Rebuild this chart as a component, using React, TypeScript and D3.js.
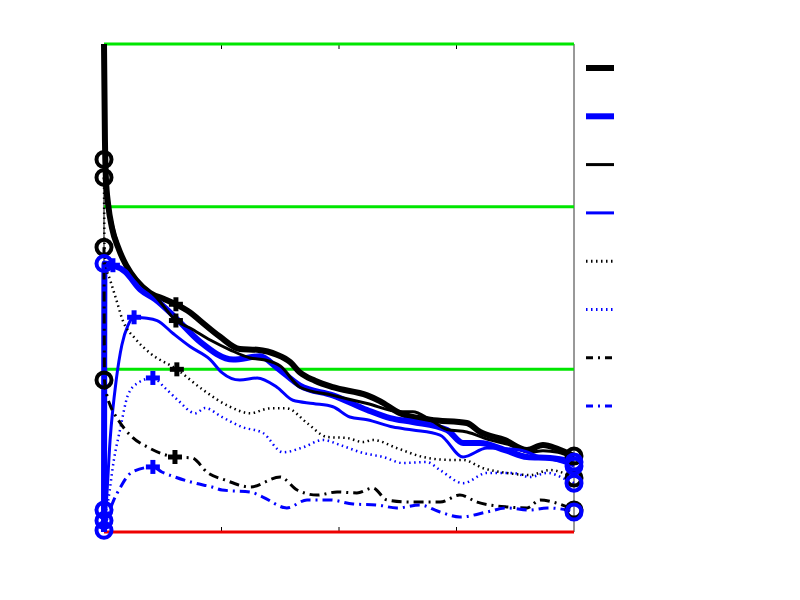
import React, { useEffect, useRef } from 'react';
import * as d3 from 'd3';

type Pt = [number, number];

const xTicks = [25, 50, 75];
const gridLevels = [1, 2, 3];

const thickBlack: Pt[] = [
  [0, 3], [0.2, 2.41], [0.4, 2.18], [0.9, 2.01], [1.7, 1.87], [3, 1.75], [4.7, 1.64], [6.8, 1.55],
  [9.8, 1.47], [13, 1.43], [15.3, 1.4], [18.3, 1.35], [20.4, 1.3], [24.7, 1.2], [28.9, 1.125],
  [32.6, 1.12], [36.8, 1.09], [39.6, 1.045], [41.7, 0.98], [44.9, 0.93], [48.7, 0.89], [56, 0.84],
  [58.7, 0.805], [63, 0.73], [69.4, 0.69], [77.2, 0.67], [80, 0.615], [85.3, 0.565], [90, 0.504],
  [93.4, 0.535], [96.6, 0.51], [100, 0.467],
];
const thickBlue: Pt[] = [
  [0, 0], [0.1, 1.65], [1.9, 1.64], [4.5, 1.6], [7.7, 1.49], [10.9, 1.43], [15.3, 1.315], [20.4, 1.17],
  [27.5, 1.06], [33.2, 1.08], [36.8, 1.01], [41.7, 0.9], [48.7, 0.84], [56, 0.75], [60.9, 0.7],
  [65.7, 0.676], [73, 0.627], [76.4, 0.547], [80, 0.547], [85.3, 0.504], [90, 0.461], [94.9, 0.455],
  [100, 0.43],
];
const thinBlack: Pt[] = [
  [0, 2.18], [0.6, 2.04], [1.3, 1.95], [2.3, 1.83], [3.8, 1.7], [5.5, 1.61], [7.7, 1.53], [10.9, 1.45],
  [15.3, 1.3], [18.3, 1.254], [22.6, 1.18], [26.8, 1.12], [31.1, 1.07], [34.3, 1.057], [37.5, 1.02],
  [41.7, 0.89], [48.7, 0.84], [56, 0.79], [63, 0.74], [65.7, 0.74], [69.4, 0.69], [73, 0.63],
  [77.2, 0.615], [82.1, 0.566], [86.4, 0.535], [90.6, 0.49], [93.4, 0.5], [96.6, 0.49], [100, 0.455],
];
const thinBlue: Pt[] = [
  [0, 0], [0.4, 0.135], [1.3, 0.566], [2.6, 0.934], [3.8, 1.15], [5.1, 1.27], [6.4, 1.32], [8.7, 1.315],
  [11.3, 1.3], [14.7, 1.22], [18.3, 1.14], [22.6, 1.06], [25.1, 0.98], [28.9, 0.934], [32.6, 0.947],
  [36.8, 0.89], [40.2, 0.81], [44.5, 0.79], [48.7, 0.77], [52.3, 0.707], [56, 0.69], [61.5, 0.645],
  [65.7, 0.627], [71.5, 0.596], [76.4, 0.461], [81.5, 0.516], [88.5, 0.504], [92.8, 0.461],
  [96, 0.443], [100, 0.406],
];
const dottedBlack: Pt[] = [
  [0, 2.18], [0.1, 1.75], [0.4, 1.64], [1.3, 1.55], [2.6, 1.43], [4, 1.3], [6.6, 1.19], [9.8, 1.1],
  [15.5, 1], [21.1, 0.873], [26.8, 0.77], [31.1, 0.73], [35.3, 0.76], [38.9, 0.76], [43.2, 0.67],
  [47.5, 0.584], [51.7, 0.578], [55.1, 0.553], [57.2, 0.566], [62.3, 0.516], [67.9, 0.461],
  [73.6, 0.443], [76.4, 0.443], [80.6, 0.393], [85.7, 0.363], [90.6, 0.35], [94.9, 0.381],
  [97.7, 0.363], [100, 0.332],
];
const dottedBlue: Pt[] = [
  [0, 0.074], [0.9, 0.197], [2.1, 0.443], [3.4, 0.627], [5.1, 0.842], [7.2, 0.916], [10.4, 0.947],
  [13, 0.885], [15.7, 0.811], [19.4, 0.73], [21.5, 0.762], [25.1, 0.707], [29.4, 0.645], [33.8, 0.609],
  [38.1, 0.49], [42.3, 0.52], [46.6, 0.566], [50.2, 0.535], [55.1, 0.486], [59.4, 0.461], [63.6, 0.424],
  [68.7, 0.43], [71.5, 0.381], [76.4, 0.3], [81.5, 0.363], [87, 0.363], [90.6, 0.338], [94.3, 0.363],
  [98.5, 0.32], [100, 0.3],
];
const dashDotBlack: Pt[] = [
  [0, 1.75], [0.1, 0.934], [0.6, 0.842], [1.3, 0.78], [3, 0.69], [6, 0.584], [9.4, 0.52], [15.1, 0.461],
  [18.7, 0.455], [22.1, 0.363], [25.7, 0.32], [31.1, 0.277], [37.5, 0.338], [41.1, 0.258], [45.3, 0.227],
  [49.6, 0.246], [53.8, 0.24], [57.2, 0.27], [60.2, 0.197], [65.1, 0.184], [71.5, 0.184], [75.7, 0.227],
  [79.4, 0.184], [85.7, 0.154], [90, 0.148], [92.8, 0.197], [95.5, 0.184], [98.5, 0.154], [100, 0.135],
];
const dashDotBlue: Pt[] = [
  [0, 0.025], [0.9, 0.105], [2.1, 0.197], [3.4, 0.27], [6, 0.369], [10.4, 0.4], [12.3, 0.369],
  [15.1, 0.338], [19.4, 0.3], [23, 0.277], [25.1, 0.258], [31.1, 0.246], [33.8, 0.215], [38.9, 0.148],
  [43.2, 0.197], [48.1, 0.197], [53, 0.172], [58.1, 0.166], [62.3, 0.148], [67.2, 0.166], [71.5, 0.123],
  [75.7, 0.092], [81.5, 0.123], [85.7, 0.148], [90.6, 0.135], [94.3, 0.148], [98.5, 0.135], [100, 0.123],
];

const blackCircles: Pt[] = [[0, 2.29], [0, 2.18], [0, 1.75], [0, 0.934], [100, 0.467], [100, 0.332], [100, 0.135]];
const blueCircles: Pt[] = [[0, 1.65], [0, 0.135], [0, 0.07], [0, 0.01], [100, 0.43], [100, 0.406], [100, 0.3], [100, 0.123]];
const blackPlus: Pt[] = [[15.3, 1.4], [15.3, 1.3], [15.5, 1], [15.1, 0.461]];
const bluePlus: Pt[] = [[1.9, 1.64], [6.4, 1.32], [10.4, 0.947], [10.4, 0.4]];

const series = [
  { data: thickBlack, color: '#000000', width: 6, dash: '' },
  { data: thickBlue, color: '#0000ff', width: 6, dash: '' },
  { data: thinBlack, color: '#000000', width: 3, dash: '' },
  { data: thinBlue, color: '#0000ff', width: 3, dash: '' },
  { data: dottedBlack, color: '#000000', width: 2.5, dash: '1.5 3.5' },
  { data: dottedBlue, color: '#0000ff', width: 2.5, dash: '1.5 3.5' },
  { data: dashDotBlack, color: '#000000', width: 3, dash: '10 5 2 5' },
  { data: dashDotBlue, color: '#0000ff', width: 3, dash: '10 5 2 5' },
];

const legendDash = ['', '', '', '', '1.5 3.5', '1.5 3.5', '7 5 2 5', '7 5 2 5'];

function App() {
  const svgRef = useRef<SVGSVGElement>(null);

  useEffect(() => {
    const svg = d3.select(svgRef.current);
    svg.selectAll('*').remove();

    const x = d3.scaleLinear().domain([0, 100]).range([104, 574]);
    const y = d3.scaleLinear().domain([0, 3]).range([532, 44]);

    // frame
    svg.append('line').attr('x1', 104).attr('x2', 104).attr('y1', 44).attr('y2', 532)
      .attr('stroke', '#000').attr('stroke-width', 1);
    svg.append('line').attr('x1', 574).attr('x2', 574).attr('y1', 44).attr('y2', 532)
      .attr('stroke', '#333').attr('stroke-width', 1);

    xTicks.forEach((t) => {
      svg.append('line').attr('x1', x(t)).attr('x2', x(t)).attr('y1', 44).attr('y2', 49)
        .attr('stroke', '#000').attr('stroke-width', 1);
      svg.append('line').attr('x1', x(t)).attr('x2', x(t)).attr('y1', 532).attr('y2', 527)
        .attr('stroke', '#000').attr('stroke-width', 1);
    });

    svg.selectAll('line.grid')
      .data(gridLevels)
      .join('line')
      .attr('class', 'grid')
      .attr('x1', x(0)).attr('x2', x(100))
      .attr('y1', (d) => y(d)).attr('y2', (d) => y(d))
      .attr('stroke', '#00e600').attr('stroke-width', 3);

    svg.append('line').attr('x1', x(0)).attr('x2', x(100)).attr('y1', y(0)).attr('y2', y(0))
      .attr('stroke', '#ee0000').attr('stroke-width', 3);

    const line = d3.line<Pt>().x((d) => x(d[0])).y((d) => y(d[1])).curve(d3.curveMonotoneX);

    series.forEach((s) => {
      svg.append('path')
        .attr('d', line(s.data))
        .attr('fill', 'none')
        .attr('stroke', s.color)
        .attr('stroke-width', s.width)
        .attr('stroke-dasharray', s.dash || null)
        .attr('stroke-linejoin', 'round');
    });

    const drawCircles = (pts: Pt[], color: string) => {
      svg.append('g').selectAll('circle')
        .data(pts)
        .join('circle')
        .attr('cx', (d) => x(d[0]))
        .attr('cy', (d) => y(d[1]))
        .attr('r', 7.5)
        .attr('fill', 'none')
        .attr('stroke', color)
        .attr('stroke-width', 4);
    };
    const drawPlus = (pts: Pt[], color: string) => {
      const g = svg.append('g').attr('stroke', color).attr('stroke-width', 5);
      pts.forEach((d) => {
        const cx = x(d[0]);
        const cy = y(d[1]);
        g.append('line').attr('x1', cx - 7).attr('x2', cx + 7).attr('y1', cy).attr('y2', cy);
        g.append('line').attr('x1', cx).attr('x2', cx).attr('y1', cy - 7).attr('y2', cy + 7);
      });
    };
    drawCircles(blackCircles, '#000000');
    drawCircles(blueCircles, '#0000ff');
    drawPlus(blackPlus, '#000000');
    drawPlus(bluePlus, '#0000ff');

    // legend samples
    series.forEach((s, i) => {
      const ly = 68 + i * 48.3;
      svg.append('line')
        .attr('x1', 586).attr('x2', 614).attr('y1', ly).attr('y2', ly)
        .attr('stroke', s.color)
        .attr('stroke-width', s.width === 6 ? 6 : 3)
        .attr('stroke-dasharray', legendDash[i] || null);
    });
  }, []);

  return (
    <svg
      ref={svgRef}
      width={800}
      height={600}
      style={{ position: 'absolute', left: 0, top: 0, background: '#fff' }}
    />
  );
}

export default App;
